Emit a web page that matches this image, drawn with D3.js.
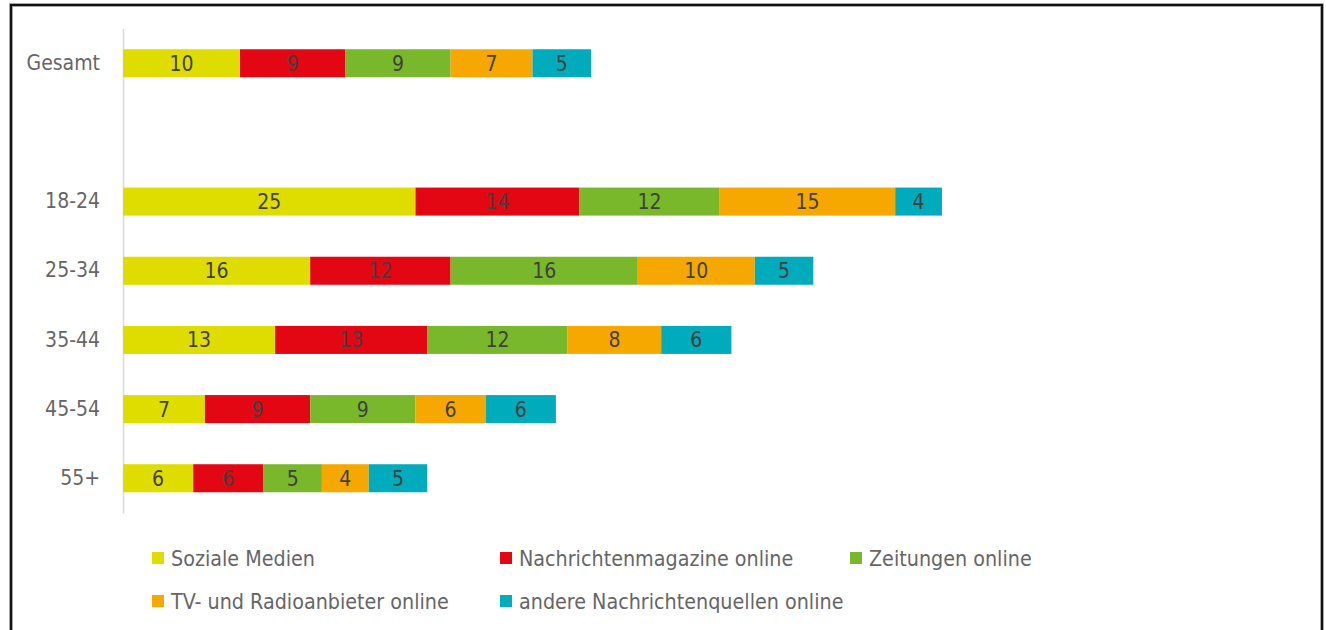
<!DOCTYPE html>
<html>
<head>
<meta charset="utf-8">
<script src="https://cdn.jsdelivr.net/npm/d3@7"></script>
<style>
    body { margin: 0; background: #fff; }
    svg text { font-family: "Liberation Sans Narrow", "DejaVu Sans Condensed", "Roboto", sans-serif; }
</style>
</head>
<body>
<script>
'use strict';

// categories (row labels, top to bottom); "gap" is the empty row under Gesamt
const groups = ["Gesamt", "18-24", "25-34", "35-44", "45-54", "55+"];
const rowOrder = ["Gesamt", "gap", "18-24", "25-34", "35-44", "45-54", "55+"];

// series names and values in %, one value per group
const seriesNames = [
    "Soziale Medien",
    "Nachrichtenmagazine online",
    "Zeitungen online",
    "TV- und Radioanbieter online",
    "andere Nachrichtenquellen online"
];
const sozialeMedien = [10, 25, 16, 13, 7, 6];
const nachrichtenmagazine = [9, 14, 12, 13, 9, 6];
const zeitungen = [9, 12, 16, 12, 9, 5];
const tvRadio = [7, 15, 10, 8, 6, 4];
const andereQuellen = [5, 4, 5, 6, 6, 5];

const colors = ["#dfdc00", "#e30613", "#78b82a", "#f6a800", "#00abbb"];

(function() {
    const W = 1326, H = 630;

    const svg = d3.select("body").append("svg")
        .attr("width", W)
        .attr("height", H);

    // frame round the picture
    svg.append("rect")
        .attr("x", 11).attr("y", 5)
        .attr("width", 1311).attr("height", 660)
        .attr("fill", "none")
        .attr("stroke", "#8a8a8a")
        .attr("stroke-width", 3.5);
    svg.append("rect")
        .attr("x", 11).attr("y", 5)
        .attr("width", 1311).attr("height", 660)
        .attr("fill", "none")
        .attr("stroke", "#111")
        .attr("stroke-width", 2);

    // build rows for the stack
    const allSeries = [sozialeMedien, nachrichtenmagazine, zeitungen, tvRadio, andereQuellen];
    const rows = groups.map((g, i) => {
        let row = { group: g };
        seriesNames.forEach((s, j) => { row[s] = allSeries[j][i]; });
        return row;
    });
    const stacked = d3.stack().keys(seriesNames)(rows);

    // scales
    const x = d3.scaleLinear()
        .domain([0, 100])
        .range([123, 123 + 1170]);

    const y = d3.scaleBand()
        .domain(rowOrder)
        .range([28.5, 513])
        .paddingInner(0.595)
        .paddingOuter(0.3);

    // category axis on the left
    const yAxis = d3.axisLeft(y)
        .tickSize(0)
        .tickSizeOuter(0)
        .tickPadding(23)
        .tickFormat(d => d === "gap" ? "" : d);

    const axisG = svg.append("g")
        .attr("transform", "translate(" + x(0) + ",0)")
        .call(yAxis);
    axisG.select(".domain")
        .attr("stroke", "#d9d9d9")
        .attr("stroke-width", 1.5);
    axisG.selectAll("text")
        .attr("fill", "#666")
        .style("font-size", "21px");

    // bars
    const layers = svg.selectAll(".layer")
        .data(stacked)
        .enter()
        .append("g")
        .attr("class", "layer")
        .attr("fill", (d, i) => colors[i]);

    layers.selectAll("rect")
        .data(d => d)
        .enter()
        .append("rect")
        .attr("x", d => x(d[0]))
        .attr("y", d => y(d.data.group))
        .attr("width", d => x(d[1]) - x(d[0]))
        .attr("height", y.bandwidth());

    // value labels in the middle of each segment
    layers.selectAll("text")
        .data(d => d.map(v => ({ v: v, key: d.key })))
        .enter()
        .append("text")
        .attr("x", d => (x(d.v[0]) + x(d.v[1])) / 2)
        .attr("y", d => y(d.v.data.group) + y.bandwidth() / 2)
        .attr("dy", "0.36em")
        .attr("text-anchor", "middle")
        .attr("fill", "#404040")
        .style("font-size", "21px")
        .text(d => d.v.data[d.key]);

    // legend, three columns
    const legendX = [152, 500, 850];
    const legendY = [558, 601];
    const legend = svg.selectAll(".legend")
        .data(seriesNames)
        .enter()
        .append("g")
        .attr("class", "legend")
        .attr("transform", (d, i) =>
            "translate(" + legendX[i % 3] + "," + legendY[Math.floor(i / 3)] + ")");

    legend.append("rect")
        .attr("x", 0)
        .attr("y", -6)
        .attr("width", 12)
        .attr("height", 12)
        .attr("fill", (d, i) => colors[i]);

    legend.append("text")
        .attr("x", 19)
        .attr("y", 0)
        .attr("dy", "0.36em")
        .attr("fill", "#666")
        .style("font-size", "21.3px")
        .text(d => d);
})();
</script>
</body>
</html>
